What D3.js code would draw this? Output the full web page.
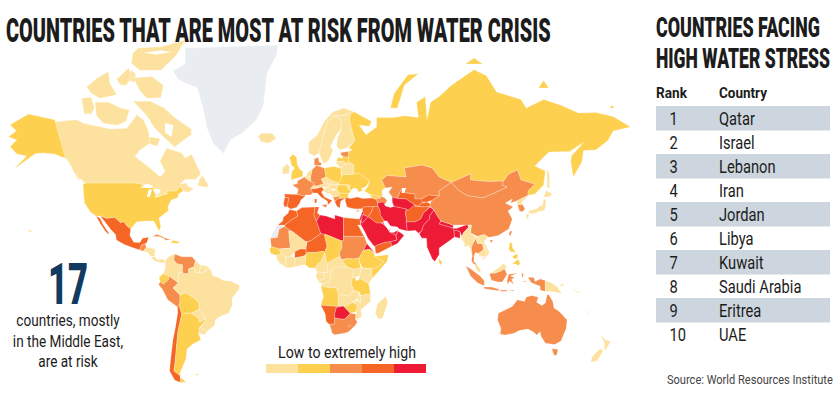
<!DOCTYPE html>
<html>
<head>
<meta charset="utf-8">
<title>Countries at risk from water crisis</title>
<style>
  html, body { margin: 0; padding: 0; background: #fff; }
  svg { display: block; }
  text { font-family: Roboto, sans-serif; fill: #1c1c1c; }
</style>
</head>
<body>
<div id="chart"></div>
<script src="https://d3js.org/d3.v7.min.js"></script>
<script>
const chartTitle = "COUNTRIES THAT ARE MOST AT RISK FROM WATER CRISIS";
const tableTitle = ["COUNTRIES FACING", "HIGH WATER STRESS"];
const tableHead = ["Rank", "Country"];
const ranks = [1, 2, 3, 4, 5, 6, 7, 8, 9, 10];
const rankedCountries = ["Qatar", "Israel", "Lebanon", "Iran", "Jordan", "Libya", "Kuwait", "Saudi Arabia", "Eritrea", "UAE"];
const calloutNumber = "17";
const calloutLines = ["countries, mostly", "in the Middle East,", "are at risk"];
const legendLabel = "Low to extremely high";
const sourceLabel = "Source: World Resources Institute";

// risk groups
const noData = ["Greenland", "W Sahara"];
const lowRisk = ["Canada", "Iceland", "Ireland", "Norway", "Sweden", "Finland", "Lithuania", "Belarus", "Belgium", "Netherlands", "Switzerland", "Austria", "Czechia", "Slovakia", "Hungary", "Slovenia", "Serbia", "Moldova",
  "Nicaragua", "Panama", "Honduras", "Jamaica", "Colombia", "Brazil", "Guyana", "Suriname", "FrGuiana", "Paraguay", "Uruguay", "Falklands", "Hawaii",
  "Mali", "Guinea", "IvoryCoast", "Ghana", "Cameroon", "CAR", "Congo", "Gabon", "DRC", "Uganda", "Kenya", "Zambia", "Malawi", "Mozambique", "Madagascar",
  "Myanmar", "Laos", "Vietnam", "Cambodia", "Malaysia", "NKorea", "Japan", "Sakhalin", "PNG", "NewZealand", "NewCaledonia", "Solomons"];
const lowMedRisk = ["USA", "Alaska", "UK", "Poland", "Ukraine", "Romania", "Bulgaria", "Latvia", "Georgia", "Russia",
  "Ecuador", "Bolivia", "Argentina", "Hispaniola", "Senegal", "Chad", "Nigeria", "SouthSudan", "Ethiopia", "Somalia", "Tanzania", "Angola", "Zimbabwe", "SriLanka", "Philippines"];
const medHighRisk = ["France", "Germany", "Denmark", "Estonia", "Albania", "Kazakhstan", "Mongolia", "China", "SKorea", "Taiwan", "Thailand", "Indonesia", "Australia",
  "Guatemala", "Cuba", "Venezuela", "Peru", "Mauritania", "Sudan", "SouthAfrica", "Lesotho", "Caucasus"];
const highRisk = ["Spain", "Portugal", "Italy", "Greece", "Turkey", "Cyprus", "Mexico", "Chile", "Morocco", "Algeria", "Tunisia", "Egypt", "Niger", "Burkina", "Namibia", "Iraq", "Syria", "Yemen", "Uzbekistan", "Kyrgyzstan", "Tajikistan", "Afghanistan"];
const extremeRisk = ["Libya", "Botswana", "Iran", "Saudi", "Oman", "UAE", "Qatar", "Kuwait", "Israel", "Lebanon", "Jordan", "Eritrea", "Turkmenistan", "Pakistan", "India", "Nepal", "Bangladesh"];

const riskGroups = [lowRisk, lowMedRisk, medHighRisk, highRisk, extremeRisk];
const riskColors = ["#fde29f", "#fdd04f", "#f68d4d", "#f56525", "#ee1b36"];
const noDataColor = "#e9ecf1";
const tableBand = "#cdd6de";

// country outlines as "lon,lat" rings; the far north is pulled to where this map shows it
const outlines = {
  Greenland: ["-66,83 -13,83.7 -13,81.7 -19,77 -21,71.5 -25,67.9 -33,64.5 -40,62.6 -44,58.8 -50,61.8 -53.5,65.8 -55.5,70.5 -59,74.5 -70,76 -73,77.5 -66,79"],
  Canada: ["-141,67.4 -128.3,67.9 -124.5,67 -115,66.1 -109,65.5 -99.6,65.7 -95.8,67.9 -93.9,69.2 -90,67.9 -87.2,65.2 -86.2,61.8 -92,60 -94.8,57.8 -86.2,54 -80.4,51.1 -77.6,52.8 -80.4,56.4 -76.6,60.5 -68,59 -66,57.3 -62.2,58.6 -57,52 -60,50.2 -66,50.2 -69,48.5 -65,49 -64.5,47.5 -61,46 -64,44.5 -66,44.5 -67,45.2 -69,47.3 -71,45 -75,45 -79,43.5 -83,42 -83,46 -89,48 -95,49 -123,49 -127.4,50 -134,57 -141,58.7",
    "-95.8,72.2 -86,72.2 -78,71 -72,68.5 -62.5,65.5 -62.5,64 -70,61.5 -72,60.7 -78.5,63.5 -84,66 -88,69",
    "-117.8,72 -110,72 -103,71 -98,70.5 -100,67.5 -105,66.5 -113,67 -117,69",
    "-125.5,72.7 -120,72.9 -118,71 -120,69.5 -124,69.5",
    "-122.6,74.7 -116.8,76.2 -110.1,77.4 -109.2,75.3 -105.4,73.3 -115,72.7 -120,73.6",
    "-105.4,76 -98.6,78 -96,76.5 -100,75 -103,75",
    "-97,77.6 -94.5,77 -95,75.5 -98,75.8",
    "-95.8,76.3 -85,76.5 -78.5,75 -80,72.8 -88,72.7 -92,74",
    "-96,81.7 -93,83 -80,83.3 -66,85 -71,81.2 -80,77.6 -92,77.6 -97,79.2",
    "-87,63.5 -80.4,63 -82,61 -86,61.5",
    "-59,47.7 -53,46.7 -53,48.5 -56,51.5 -57.5,50.5",
    "-128,50.7 -123.5,48.4 -125,50"],
  Alaska: ["-141,67.9 -156,69.4 -166.6,66.6 -163,65 -167.6,63.5 -162.8,62.6 -166.6,60.9 -162.8,58.7 -157,58 -164.7,53.5 -152,58.8 -147.5,59 -141,58.7 -134,57 -128,51.5 -129,53 -135,57.5"],
  USA: ["-124.7,48.4 -123,49 -95,49 -89,48 -83,46 -83,42 -79,43.5 -75,45 -71,45 -69,47.3 -67,45 -70,43.5 -70,41.7 -74,40.5 -76,37 -75.5,35.3 -81,31.5 -80,27 -81,25 -82.8,28 -84,30 -89,30 -94,29.5 -97.3,26 -99.5,27.5 -101.5,29.8 -103,29 -106.5,31.8 -111,31.3 -114.8,32.5 -117.2,32.5 -120.5,34.5 -123.8,39 -124.3,43"],
  Hawaii: ["-157,26 -154,25 -155,24"],
  Mexico: ["-114.8,32.5 -111,31.3 -106.5,31.8 -103,29 -101.5,29.8 -99.5,27.5 -97.3,26 -97.8,22.5 -95.5,18.8 -92,18.6 -90.5,21 -87,21.5 -88,18.5 -89,17.9 -91,17.2 -92.2,14.5 -96,15.7 -101,17.5 -105.5,20 -106,23 -109,26 -112.5,30",
    "-117.2,32.5 -115,31.5 -113,28 -110,24 -110,23 -112,25 -115,29"],
  Guatemala: ["-92.2,14.5 -91,17.2 -89,17.9 -88.3,16 -89,15 -90,13.8"],
  Honduras: ["-89,15 -88.3,16 -83.2,15 -84,13.5 -87.5,13 -90,13.8"],
  Nicaragua: ["-83.2,15 -83.7,11 -85.7,11 -87.5,13"],
  Panama: ["-83.7,11 -82,9 -79.5,9.5 -77.3,8.6 -78,7.3 -80,7.3 -83,8.2 -85.7,10"],
  Cuba: ["-85,22 -82,23.2 -77,21 -74.2,20.2 -77.5,19.9 -78,20.8 -81,22"],
  Hispaniola: ["-74.4,18.5 -73,19.9 -68.5,18.7 -71,18"],
  Jamaica: ["-78.3,18.3 -76.3,18.1 -77,17.7"],
  Colombia: ["-77.3,8.6 -75.5,10.8 -72,12.2 -72.5,9 -71,7 -67.5,6.2 -67.5,2 -69.8,1.7 -70,-4.2 -72,-2.5 -75.2,-0.1 -78.8,1.4 -77.4,4 -77.5,7"],
  Venezuela: ["-72,12.2 -68,10.7 -62,10.7 -60,8.4 -61,5 -64,4 -64,1.2 -67,1.2 -67.5,2 -67.5,6.2 -71,7 -72.5,9"],
  Guyana: ["-60,8.4 -57,6 -58,1.8 -60,2 -61,5"],
  Suriname: ["-57,6 -54,5.8 -54.5,2.3 -58,1.8"],
  FrGuiana: ["-54,5.8 -51.6,4 -54.5,2.3"],
  Ecuador: ["-78.8,1.4 -75.2,-0.1 -75.5,-2 -78.5,-4.8 -80.3,-3.4 -81,-1"],
  Peru: ["-80.3,-3.4 -78.5,-4.8 -75.5,-2 -75.2,-0.1 -72,-2.5 -70,-4.2 -73,-7 -70.5,-9.5 -69,-11 -69,-15.5 -69.5,-17.5 -70.4,-18.3 -76,-14 -79,-8 -81.3,-5"],
  Bolivia: ["-69,-11 -65.5,-9.8 -60,-13.5 -58,-16.3 -58,-19.8 -62.5,-22 -66,-22 -68,-23 -69.5,-17.5 -69,-15.5"],
  Chile: ["-70.4,-18.3 -69.5,-17.5 -68,-23 -70,-32 -71,-40 -71.7,-46 -72.5,-50 -69,-52 -68.5,-54.9 -72,-54 -75,-50 -74,-43 -73,-37 -71.5,-30 -70.3,-22"],
  Argentina: ["-68,-23 -66,-22 -62.5,-22 -58,-25 -58,-27.3 -54.6,-25.5 -54,-26 -57.5,-30.3 -58.3,-34 -57,-37 -62,-39 -65,-41 -65.5,-45 -69,-51 -68.5,-52.3 -72.5,-50 -71.7,-46 -71,-40 -70,-32",
    "-68.5,-52.7 -68.5,-54.9 -65.5,-54.8"],
  Paraguay: ["-62.5,-22 -58,-19.8 -56,-22.2 -54.6,-25.5 -58,-27.3 -58,-25"],
  Uruguay: ["-58.3,-34 -57.5,-30.3 -53.5,-33 -54.8,-34.9"],
  Falklands: ["-61,-51.5 -58,-51.2 -59,-52"],
  Brazil: ["-60,2 -58,1.8 -54.5,2.3 -51.6,4 -50,0 -47,-0.8 -44,-2.6 -40,-2.9 -35,-5.3 -34.8,-7.5 -39,-13 -39,-17.5 -41,-22 -46,-24 -48.7,-26 -49,-29 -53.5,-33 -57.5,-30.3 -54,-26 -54.6,-25.5 -56,-22.2 -58,-19.8 -58,-16.3 -60,-13.5 -65.5,-9.8 -69,-11 -70.5,-9.5 -73,-7 -70,-4.2 -69.8,1.7 -67.5,2 -67,1.2 -64,1.2 -64,4 -61,5"],

  Iceland: ["-24,63.6 -22,64.4 -16,64.4 -13.6,63 -18,61.8 -22.5,62.2"],
  Norway: ["5,59 5,62 10,64 14,67.5 19,70 25,71 31,70 29,69.5 25,69 20,69 16,67.5 14,65 12,61 11,59 8,58"],
  Sweden: ["11,59 12,61 14,65 16,67.5 20,69 23.5,68 24,65.8 21,64 17.5,61 19,59.8 16.5,56.5 14,55.5 13,56"],
  Finland: ["20,69 25,69 29,69.5 28.5,68 30,65 31.5,62.5 27,60.5 23,60 21,61 21.5,63 24,65.8 23.5,68"],
  Denmark: ["8.2,55 8.2,57 10.5,57.6 11,56 12.5,55.7 12,54.8 9.5,54.8"],
  Germany: ["6,51 7,53.5 9.5,54.8 14,54 15,51 12.2,50.3 13.7,48.6 10,47.5 7.6,47.6 8.2,49 6.2,49.5"],
  Netherlands: ["3.5,51.4 4.8,53 7,53.4 6,51"],
  Belgium: ["2.5,51 3.5,51.4 6,51 6.2,49.5 4.5,50"],
  France: ["2.5,51 4.5,50 6.2,49.5 8.2,49 7.6,47.6 6,46.2 7.5,44 6,43 3,43 3,42.4 -1.7,43.3 -1,46 -4.5,48 -1.5,48.7 -1.5,49.7"],
  Spain: ["-9,43.5 -1.7,43.3 3,42.4 0.5,40.5 -0.3,38.7 -2,36.8 -5.5,36 -7.4,37.2 -7,39 -6.5,41.5 -8.7,42"],
  Portugal: ["-8.7,42 -6.5,41.5 -7,39 -7.4,37.2 -9,37 -9.5,38.7"],
  UK: ["-5,50 1.5,51.2 1.7,52.8 0,53.5 -1.5,55 -2,57.6 -4,58.6 -6,57.5 -5,55 -3,54 -4.5,53 -5,51.7"],
  Ireland: ["-10,52 -6.2,52.2 -6,54.5 -7.5,55.3 -10,54"],
  Switzerland: ["6,46.2 7.6,47.6 10,47.5 10,46.4 8,46"],
  Austria: ["10,47.5 13.7,48.6 17,48.6 17,48 16,46.8 12.5,47 10,46.4"],
  Czechia: ["12.2,50.3 15,51 18.8,49.6 17,48.6 13.7,48.6"],
  Slovakia: ["17,48.6 18.8,49.6 22.5,49 22,48.2 17,48"],
  Hungary: ["16,46.8 17,48 22,48.2 21,46 18,45.9"],
  Poland: ["14,54 19,54.5 23.5,54 24,50.7 22.5,49 18.8,49.6 15,51"],
  Italy: ["7.5,44 6,46.2 8,46 10,46.4 12.5,47 13.7,45.7 12.3,44.5 14,42 18.5,40.2 16,38 15.7,40 12,42 10,44",
    "12.5,38 15.5,38.2 15,36.7", "8.3,41 9.7,41 9.5,39 8.5,39"],
  Slovenia: ["13.7,45.7 16,46.8 18,45.9 19,45 16,43.5 13.7,45"],
  Serbia: ["16,45 19,45 21,46 22.5,44 22.5,42.5 20,42 18.5,42.5"],
  Albania: ["19,42 20.6,42 22.5,42.5 22.9,41.4 21,40.8 20,39.7"],
  Greece: ["20,39.5 21,40.8 22.9,41.4 26.3,41.5 23.5,40 23,38 23,36.6 21.5,37"],
  Bulgaria: ["22.5,44 28,43.7 27.7,42 26.3,41.5 22.9,41.4 22.5,42.5"],
  Romania: ["21,46 22,48 26.5,48.2 28.2,45.5 29.5,45 28,43.8 22.5,44"],
  Moldova: ["26.5,48.2 29,47.8 28.2,45.5"],
  Ukraine: ["22.5,49 24,50.7 24,51.7 31,52 34,52.3 40,49.7 38,47.2 35,46 36.5,45.3 33.5,44.5 33,46 30.7,46.5 29.5,45.4 28.2,45.5 29,47.8 26.5,48.2 22,48.2"],
  Belarus: ["23.5,54 24,51.7 31,52 31,55 28,56 26.5,55.5"],
  Lithuania: ["21,55.3 21,56.3 25,56.3 26.5,55.5 23.5,54 22.8,54.4"],
  Latvia: ["21,56.3 21.7,57.6 24.4,57.2 24.4,58 27.7,57.5 28,56 26.5,55.5 25,56.3"],
  Estonia: ["23.5,58.5 23.5,59.2 28,59.5 27.7,57.5 24.4,58"],
  Russia: ["28,59.5 30,60 28,60.5 31.5,62.5 30,65 28.5,68 29,69.5 31,70 41,67.5 40,66.2 34,66.5 38,64 44,66 44,68.5 54,68.5 60,69 68,68.5 67,72 72,73 73,68 75,72 80,73 87,75 100,77.7 107,76.7 113,73.8 127,72.5 130,71 140,72.5 150,71.5 160,69.7 170,69.8 180,68.8 190,66 180,65 177,62.5 170,60 163,59.8 162,56 157,51 155.6,56 156,58 163,62 155,59.5 143,59.3 135,54.7 141,53 140,48 135,43.5 131,42.7 131,45 135,48.5 127,50 125,53.3 120,52 117,49.7 108,49.5 98,50 98,52 87,49.2 80,51 76,54 70,55 60,54 61,51 50,51.5 47,50 49,46.5 48,46 47,45 47.5,42 48.5,41.8 45,42.5 40,43.4 37,45 39,47.3 40,49.7 34,52.3 31,52 31,55 28,56 27.7,57.5",
    "52,71 56,71 60,75 68,77 62,76.8 54,73.5", "95,79 105,79 100,80.5", "178,71 181,71 179,71.5", "137,74.5 143,74.5 140,75.8"],
  Sakhalin: ["142,54 143.3,52 143.5,46.5 142,46.5"],

  Turkey: ["26.3,41.9 26,40 27,37 30,36.3 33,36 36,36.2 36.5,37 42,37.2 44.8,37.3 44.5,39.7 43.5,41 41.5,41.5 36,41.3 33,42 29,41.2"],
  Cyprus: ["32.3,35 34.5,35.6 33,34.6"],
  Georgia: ["40,43.4 45,42.5 46.5,41.5 43.5,41 41.5,41.5"],
  Caucasus: ["43.5,41 46.5,41.5 45,42.5 48.5,41.8 50,40.3 49,38.4 45,39 44.5,39.7"],
  Kazakhstan: ["47,50 50,51.5 61,51 60,54 70,55 76,54 80,51 87,49.2 83,47 80,45 80,42.5 74,43 70,41 66,41 66,43.5 61,44 58,45.5 56,41.3 53,42 51,44.5 53,47 49,46.5"],
  Uzbekistan: ["56,41.3 58,45.5 61,44 66,43.5 66,41 70,41 73,40.5 70,39 67.5,37.3 65,38.5 61,41"],
  Turkmenistan: ["53,42 56,41.3 61,41 65,38.5 66.5,37.3 62,35.3 61,36 54,37.3 53,39.5"],
  Kyrgyzstan: ["70,41 74,43 80,42.5 76,40.4 73,39.5 70,39.5"],
  Tajikistan: ["67.5,37.3 70,39 73,39.5 75,38.5 74.8,37.3 71.5,37"],
  Afghanistan: ["61,36 62,35.3 65,37.5 67.5,37.3 71.5,37 74.8,37.3 71,34 69.3,31 66,29.5 61,29.7 61,31.5 60.5,34"],
  Pakistan: ["61,29.7 66,29.5 69.3,31 71,34 74.8,37 77,35.5 74.5,32.5 74.5,31 71,28 70,25 68,23.8 66.5,25.3 61.6,25"],
  India: ["77,35.5 74.5,32.5 74.5,31 71,28 70,25 68.5,23.5 70,21 72.7,21 73,16 76,9.5 77.5,8 80,12 80,15.5 86.5,20 88.8,21.7 88.5,25 88,26.5 80,28.5 81,30 79,32.5",
    "88,26.5 89.8,26.3 96,28.2 97,27 94,24 93,22 92,24.5 90,25.3 88.5,25"],
  Nepal: ["81,30 88,28 88,26.5 80,28.5"],
  Bangladesh: ["88.5,25 90,25.3 92,24.5 92,21 88.8,21.7"],
  SriLanka: ["80,9.7 81.8,7.5 80.7,6 79.8,8"],
  China: ["74.8,37.3 75,39.5 76,40.4 80,42.5 80,45 83,47 87,49.2 91,45.5 96,42.7 105,41.6 111,43.7 119,47 116,48 117,49.7 120,52 125,53.3 127,50 135,48.5 131,45 131,42.7 124.5,40 121,39 122,41 118,39 122.5,37 119.5,35 122,31 120,26 114,22.5 109,21.5 108,21.7 106,23 102,22 98,24 98.5,28 92,28 88,28 81,30 79,32.5 77,35.5",
    "109,20 111,20 110,18.3"],
  Mongolia: ["87,49.2 98,52 98,50 108,49.5 117,49.7 116,48 119,47 111,43.7 105,41.6 96,42.7 91,45.5"],
  NKorea: ["124.5,40 131,42.7 129,40.5 127.5,39.5 128,38.3 125,38"],
  SKorea: ["125,38 128,38.3 129.3,36 128,34.7 126.3,34.7"],
  Japan: ["130.9,34 132,35.4 136,36 137,37 139.5,38 140,41 141.5,40.5 141,37 140.5,35.3 137,34.6 135,33.7 132.5,34",
    "130,33.5 131.8,33.5 131,31 130.2,31.3", "132.5,33.8 134.5,34 133.5,33", "140,42 141.5,45.3 145,43.5 143,42"],
  Taiwan: ["121,25 122,25 120.8,22 120,23.5"],
  Myanmar: ["92.5,21 93,22 94,24 97,27 98.5,28 98,24 101,21.5 98.5,16 99,11 98,14.5 97,17 94.5,16 94.5,18.5"],
  Thailand: ["101,21 102,18 105,18 105.5,14.5 102.5,12.5 100.8,13 100,11 100,8 102,6 100,6.5 98.5,8.5 99,11 98.5,16"],
  Laos: ["101,21.5 102,22 104,19 107,15 105.5,14.5 105,18 102,18"],
  Cambodia: ["105.5,14.5 107.5,14.5 106.5,10.7 103,11 102.5,12.5"],
  Vietnam: ["102,22 106,23 108,21.7 105.7,19 109,13 107,10.5 105,8.7 105,10.3 106.5,10.7 107.5,14.5 107,15 104,19"],
  Malaysia: ["100.2,6.3 102,6 103.5,4 104,1.5 101.5,3", "109.5,1.5 111,2.5 114,4.5 117,7 119,5 117.5,4 115,2.5 112,1.5"],
  Indonesia: ["95.3,5.6 98,4 103.5,0 106,-3 105.8,-5.8 102,-4 98,0",
    "105.5,-6.5 110,-6.5 114.5,-7.8 114,-8.7 106,-7.5",
    "109,1 109.5,1.5 112,1.5 115,2.5 117.5,4 119,1 116.3,-3.5 114,-3.5 110,-2.5",
    "119.5,-5 119,-2.5 120,1 125,1.5 121,0 123.3,-1 121.5,-2 123,-5 120.5,-3",
    "115,-8.3 119,-8.3 119,-8.9 115,-8.9", "119.5,-8.7 123,-8.2 123,-8.8", "123.5,-10.3 127,-8.4 125,-9.5",
    "127.5,2 128.5,1 128,-1 127.5,0", "127.8,-3 131,-3.2 129,-3.6",
    "131,-0.8 134.5,-0.9 135,-3.3 138,-1.7 141,-2.6 141,-9.1 138,-8.3 138,-6 133,-4 132,-2.5"],
  PNG: ["141,-2.6 145,-4.3 148,-6.5 150.5,-10.5 147,-9.5 143,-9 141,-9.1", "148.5,-5.8 152,-4.2 151,-6"],
  Solomons: ["156,-7 161,-10 159.5,-9.8"],
  NewCaledonia: ["164,-20 167,-22.3 165.5,-21.8"],
  Philippines: ["120.5,18.5 122,18.5 122,16 124,13 121,13.5 120,15", "122,7 125.5,9.5 126.5,7 125.5,5.7 124,6.5",
    "122,11 125,12.5 125,10 123,9.5", "117.3,8.5 119.5,11 119,10"],
  Australia: ["114,-22 113.5,-26 115.5,-31 115,-34.5 118,-35 123,-34 126,-32.3 131,-31.5 134,-33 136,-35 138,-33 138.5,-35.5 141,-38.5 146.5,-39 150,-37.5 153,-31 153.5,-26 149,-21 146,-19 145.3,-15 143,-11 142,-11 141,-16 139,-17.5 136,-15.5 137,-12.5 133,-11.5 130,-12.5 129,-15 125,-14 122,-18 117,-20.5",
    "144.7,-40.8 148.3,-41 147.5,-43.5 146,-43.5"],
  NewZealand: ["172.7,-34.5 175.5,-37 178.5,-37.7 176,-41 174.8,-41.3 175,-38.5", "172.5,-40.7 174.3,-41.7 170.5,-46 167,-46.3 168,-44"],

  Iran: ["44.5,39.7 45,39 48,39.5 49,37.5 52,36.8 54,37.3 61,36 60.5,34 61,31.5 61,29.7 61.6,25 57,26 56,27 52,27.5 50,30 48.5,30 46,33 46,35 44.8,37.3"],
  Iraq: ["42,37.2 44.8,37.3 46,35 46,33 48.5,30 47.7,29.5 46.5,29 44,29 39,32.2 41,34.5"],
  Syria: ["36,36.2 36.5,37 42,37.2 41,34.5 39,32.2 36.5,33 35.8,35"],
  Lebanon: ["35.1,33 35.8,34.6 36.5,34.4 36.5,33"],
  Israel: ["34.3,31.3 35.1,33 35.8,33 35.5,31 35,29.5"],
  Jordan: ["35.5,31 35.8,33 36.5,33 39,32.2 37.5,30.5 36,29.2 35,29.5"],
  Saudi: ["35,29.5 36,29.2 37.5,30.5 39,32.2 44,29 46.5,29 48.2,28.3 50,26.5 51.5,24.5 55,22.7 55.7,20 52,19 49,18.7 45,17.4 43,16.5 42.5,16.7 39,21 37,25 35,28"],
  Yemen: ["43,16.5 45,17.4 49,18.7 52,19 53,16.6 45,12.7 43.5,12.7"],
  Oman: ["52,19 55.7,20 55.2,22.7 56.3,25 58.7,23.5 59.8,22.5 56,18 53,16.6"],
  UAE: ["51.5,24.2 54,24.2 56.3,25.5 55.2,22.7 55,22.7"],
  Qatar: ["51,25 51.6,26 51.5,24.7"],
  Kuwait: ["46.5,29 47.7,29.5 48.4,28.5"],

  Morocco: ["-6,35.8 -2,35 -1.2,32.5 -5,30.5 -8.7,28 -13,27.7 -10,30 -9.5,32 -7,33.8"],
  "W Sahara": ["-13,27.7 -8.7,27.7 -8.7,27.3 -12,26 -13,21.4 -17,21 -16,23.5"],
  Mauritania: ["-17,21 -13,21.4 -12,26 -8.7,27.3 -4.8,25 -6.5,25 -5.5,15.5 -12,15 -16.5,16.3"],
  Algeria: ["-2,35 1,36.7 8.6,37 8,33 9.5,30 12,23.5 6,19.5 3.3,19 -4.8,25 -8.7,27.3 -8.7,28 -5,30.5 -1.2,32.5"],
  Tunisia: ["8.6,37 11,37 10,34 11.5,33 9.5,30 8,33"],
  Libya: ["11.5,33 15,32.5 20,31 20,33 25,31.7 25,20 24,19.5 15,23 12,23.5 9.5,30"],
  Egypt: ["25,31.7 33.5,31 34.3,31.3 35,28 33,28 34,27 35.7,23.9 37,22 25,22"],
  Sudan: ["25,22 37,22 38.5,18 36.5,14.3 34,10 31,9.5 27,9.7 23.5,9 22.5,13 24,15.5 24,19.5 25,20"],
  Eritrea: ["36.5,14.3 38.5,18 43,12.7 40,14.8"],
  Ethiopia: ["36.5,14.3 40,14.8 42.8,12.5 43,11 48,8 45,5 42,4 36,4.5 34,8 34,10"],
  SouthSudan: ["27,9.7 31,9.5 34,10 34,8 35,4.5 31,3.7 27,5 24,8.6"],
  Somalia: ["43,11 51,11.8 50,8 41.5,-1.5 41,3.8 45,5 48,8"],
  Kenya: ["36,4.5 41,3.8 41.5,-1.5 39.5,-4.5 34,-1 35,4.5"],
  Uganda: ["31,3.7 35,4.5 34,-1 30,-1"],
  Tanzania: ["30,-1 34,-1 39.5,-4.5 40.5,-10.5 35,-11.5 34,-9.5 31,-8.5 29.5,-5"],
  DRC: ["12,-6 13,-4.5 17,-3.5 18,3.5 19,5 27,5 31,3.7 30,-1 29.5,-5 31,-8.5 28,-12 24,-11 22,-11 21,-7 17,-7 13,-6"],
  Congo: ["11,-4 13,-4.5 17,-3.5 18,3.5 16,2 13.5,2 14,-1.5 11.5,-2.5"],
  Gabon: ["9,0 9.8,2.2 13.5,2 14,-1.5 11.5,-2.5 11,-4"],
  Cameroon: ["8.6,4.5 9.8,2.2 16,2 15.5,7 14.5,12 14,13 13.5,11 12,8 10.5,7"],
  CAR: ["15.5,7 16,2 18,3.5 19,5 27,5 24,8.6 23,11 19,9"],
  Chad: ["14,13 14.5,12 15.5,7 19,9 23,11 22.5,13 24,15.5 24,19.5 15,23 14,22.5 15.5,16.5"],
  Niger: ["3.5,12 3.3,15 4,19 6,19.5 12,23.5 15,23 14,22.5 15.5,16.5 14,13 13.5,13.7 8,13 4,13"],
  Nigeria: ["2.8,6.4 3.5,12 4,13 8,13 13.5,13.7 14,13 13.5,11 12,8 10.5,7 8.6,4.5 5.5,4.5"],
  Mali: ["-12,15 -5.5,15.5 -6.5,25 -4.8,25 3.3,19 4,19 3.3,15 0,15 -3,13.5 -5,11 -8,10.5 -11,12.3"],
  Burkina: ["-3,13.5 0,15 3.3,15 3.5,12 2,11 -3,10"],
  Ghana: ["-3,10 2,11 3.5,12 2.8,6.4 1,6 -3,5"],
  IvoryCoast: ["-8,10.5 -5,11 -3,10 -3,5 -7.5,4.4 -8.5,7.5"],
  Guinea: ["-13.5,9.6 -13.5,11.5 -11,12.3 -8,10.5 -8.5,7.5 -7.5,4.4 -11.5,7"],
  Senegal: ["-17.5,14.7 -16.5,16.3 -12,15 -11,12.3 -13.5,11.5 -16.7,12.4"],
  Angola: ["12,-6 13,-6 17,-7 21,-7 22,-11 24,-11 22,-13 22,-18 12,-17.3 13.5,-12"],
  Zambia: ["22,-11 24,-11 28,-12 31,-8.5 34,-9.5 33,-13.5 30,-15.5 27,-17.8 22,-18 22,-13"],
  Namibia: ["12,-17.3 22,-18 25,-17.8 21,-18.5 20,-22 20,-28.5 17,-28.7 15,-27 14.5,-22.5"],
  Botswana: ["21,-18.5 25,-17.8 29,-22 25.5,-25.7 20,-25 20,-22"],
  Zimbabwe: ["25,-17.8 27,-17.8 30,-15.5 33,-17 32.5,-21 29,-22"],
  Malawi: ["33,-13.5 34,-9.5 34.5,-12 35,-16 33.5,-14.5"],
  Mozambique: ["34.5,-12 35,-11.5 40.5,-10.5 40.5,-15 35,-20 35.5,-24 33,-26 32,-24 32.5,-21 33,-17 30,-15.5 33,-14.5 35,-16"],
  SouthAfrica: ["17,-28.7 20,-28.5 20,-25 25.5,-25.7 29,-22 32,-22.5 32,-26 33,-27 32,-29 28,-33 25.5,-34 20,-34.8 18.4,-34 18,-32"],
  Lesotho: ["27.5,-29.5 29,-29 28.5,-30.5"],
  Madagascar: ["49.3,-12 50.5,-15.5 47.5,-25 45,-25.5 43.3,-22 44.5,-16.5"]
};

// lakes and inlets painted over the land
const lakes = [
  "-92,46.8 -88,48.7 -85,47.8 -84.7,46.5 -87,46.5",
  "-88,42 -87,45.8 -85,45.7 -86.3,42",
  "-84.5,46 -81,46 -80,44.5 -82.5,43 -83.5,44",
  "-83.3,41.6 -79,42.8 -79.2,43 -83,42.3",
  "-79.7,43.4 -76,44 -76.5,43.3",
  "31.7,-0.5 34,0 34,-2.5 32,-2.6",
  "58.5,46.5 61,46.5 60,44 58.5,44",
  "-77.6,67 -72.8,66.5 -73.8,63.5 -77.6,64.5",
  "-90,81.8 -80,82.4 -74,82 -82,81.4"
];

// picture scales fitted to the reference: longitude is linear, latitude stretches towards the pole
const xScale = d3.scaleLinear().domain([-180, 190]).range([-13.2, 630.6]);
const yScale = d3.scaleLinear()
  .domain([-56, -35, -10, 0, 25, 49, 60, 71, 78, 84, 85])
  .range([385, 335, 293, 276, 231, 183, 150, 108, 68, 44, 40]);

const projection = d3.geoTransform({
  point(lon, lat) { this.stream.point(xScale(lon), yScale(lat)); }
});
const geoPath = d3.geoPath(projection);

function toPolygon(ring) {
  const coords = ring.split(" ").map(p => p.split(",").map(Number));
  coords.push(coords[0]);
  return [coords];
}

function fillFor(name) {
  if (noData.includes(name)) return noDataColor;
  const idx = riskGroups.findIndex(g => g.includes(name));
  return idx < 0 ? noDataColor : riskColors[idx];
}

const svg = d3.select("#chart").append("svg").attr("width", 840).attr("height", 419);

// map
const features = Object.keys(outlines).map(name => ({
  type: "Feature",
  properties: { name: name },
  geometry: { type: "MultiPolygon", coordinates: outlines[name].map(toPolygon) }
}));

svg.append("g").selectAll("path").data(features).enter().append("path")
  .attr("d", geoPath)
  .attr("fill", d => fillFor(d.properties.name))
  .attr("stroke", "#fff")
  .attr("stroke-opacity", 0.5)
  .attr("stroke-width", 0.5)
  .attr("stroke-linejoin", "round");

svg.append("g").selectAll("path").data(lakes).enter().append("path")
  .attr("d", d => geoPath({ type: "Polygon", coordinates: toPolygon(d) }))
  .attr("fill", "#fff");

// text squeezed sideways, the installed fonts are all wider than the original
function label(x, y, str, size, opts) {
  const o = opts || {};
  const t = svg.append("text").text(str)
    .attr("font-size", size).attr("font-weight", o.weight || 400)
    .attr("text-anchor", o.anchor || "start");
  if (o.color) t.style("fill", o.color);
  const k = o.width ? o.width / t.node().getComputedTextLength() : (o.k || 0.84);
  t.attr("transform", "translate(" + x + "," + y + ") scale(" + k + ",1)");
  return t;
}

// titles
label(6, 42, chartTitle, 34, { width: 545, weight: 900 });
label(656, 37, tableTitle[0], 28, { width: 164, weight: 900 });
label(656, 68, tableTitle[1], 28, { width: 174, weight: 900 });

// table
const rowY = d3.scaleBand().domain(ranks).range([106, 346]);
svg.append("g").selectAll("rect").data(ranks.filter(r => r % 2 === 1)).enter().append("rect")
  .attr("x", 656).attr("width", 174)
  .attr("y", d => rowY(d)).attr("height", rowY.bandwidth() + 0.5)
  .attr("fill", tableBand);

label(656, 98, tableHead[0], 15, { width: 31, weight: 700 });
label(719, 98, tableHead[1], 15, { width: 48, weight: 700 });

ranks.forEach((r, i) => {
  const y = rowY(r) + 18.5;
  label(669.5, y, String(r), 17.5);
  label(719, y, rankedCountries[i], 17.5);
});

// callout
label(68, 304, calloutNumber, 58, { width: 40, weight: 900, color: "#123a60", anchor: "middle" });
calloutLines.forEach((line, i) => {
  label(68, 326 + i * 20.5, line, 17, { k: 0.8, anchor: "middle" });
});

// legend
label(347, 358, legendLabel, 17, { width: 138, anchor: "middle" });
const legendX = d3.scaleBand().domain(riskColors).range([266, 426]);
svg.append("g").selectAll("rect").data(riskColors).enter().append("rect")
  .attr("x", d => legendX(d)).attr("y", 364)
  .attr("width", legendX.bandwidth()).attr("height", 9)
  .attr("fill", d => d);

// source
label(667, 384, sourceLabel, 13.5, { width: 166, color: "#444" });
</script>
</body>
</html>
